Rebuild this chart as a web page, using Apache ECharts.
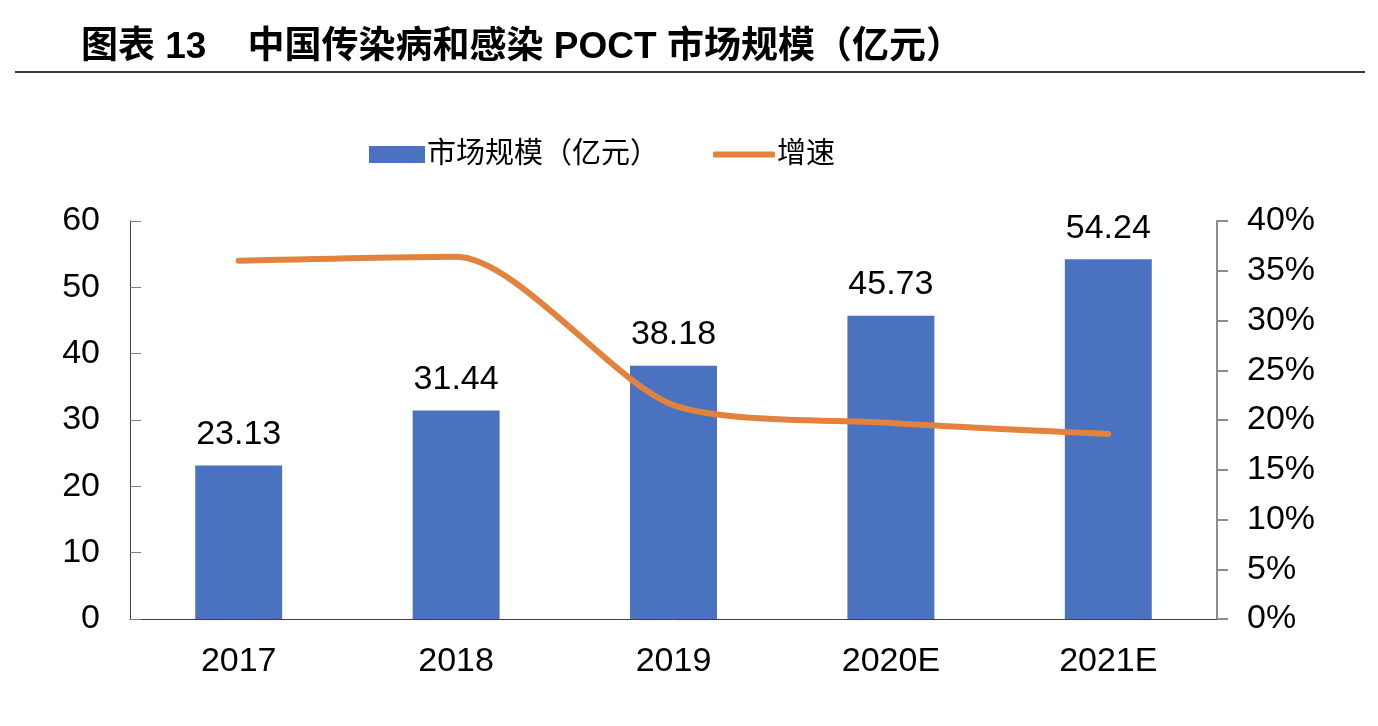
<!DOCTYPE html>
<html>
<head>
<meta charset="utf-8">
<script src="https://cdn.jsdelivr.net/npm/echarts@6/dist/echarts.min.js"></script>
<style>html,body{margin:0;padding:0;background:#fff;}#c{width:1378px;height:726px;}</style>
</head>
<body>
<div id="c"></div>
<script>
const categories = ['2017', '2018', '2019', '2020E', '2021E'];
const marketSize = [23.13, 31.44, 38.18, 45.73, 54.24];
const growthRate = [36.0, 36.4, 21.5, 19.7, 18.6];
const leftTicks = [0, 10, 20, 30, 40, 50, 60];
const rightTicks = [0, 5, 10, 15, 20, 25, 30, 35, 40];

const latin = '"Liberation Sans", Arial, sans-serif';
const cjk = '"Liberation Sans", "Noto Sans CJK SC", sans-serif';

const chart = echarts.init(document.getElementById('c'));
chart.setOption({
  backgroundColor: '#fff',
  animation: false,
  title: {
    text: '图表 13    中国传染病和感染 POCT 市场规模（亿元）',
    left: 76, top: 24,
    textStyle: { fontFamily: cjk, fontWeight: 'bold', fontSize: 37, color: '#000' }
  },
  graphic: [{
    type: 'line', shape: { x1: 15, y1: 72, x2: 1365, y2: 72 },
    style: { stroke: '#3a3a3a', lineWidth: 2 }
  }],
  legend: [{
    left: 364, top: 135,
    itemWidth: 56, itemHeight: 17,
    textStyle: { fontFamily: cjk, fontSize: 29, color: '#000', padding: [0, 0, 0, -3] },
    data: [{ name: '市场规模（亿元）', icon: 'rect' }]
  }, {
    left: 708, top: 135,
    itemWidth: 62, itemHeight: 6,
    textStyle: { fontFamily: cjk, fontSize: 29, color: '#000', padding: [0, 0, 0, -3] },
    data: [{ name: '增速', icon: 'roundRect' }]
  }],
  grid: { left: 130, right: 161, top: 221, bottom: 107, containLabel: false },
  xAxis: {
    type: 'category',
    data: categories,
    axisLine: { lineStyle: { color: '#404040', width: 1 } },
    axisTick: { show: false },
    axisLabel: { fontFamily: latin, fontSize: 34, color: '#000', margin: 26 }
  },
  yAxis: [{
    type: 'value', min: leftTicks[0], max: leftTicks[leftTicks.length - 1], interval: 10,
    axisLine: { show: true, lineStyle: { color: '#404040', width: 1 } },
    axisTick: { show: true, inside: true, length: 11, lineStyle: { color: '#808080', width: 1 } },
    splitLine: { show: false },
    axisLabel: { fontFamily: latin, fontSize: 34, color: '#000', margin: 30 }
  }, {
    type: 'value', min: rightTicks[0], max: rightTicks[rightTicks.length - 1], interval: 5,
    axisLine: { show: true, lineStyle: { color: '#8c8c8c', width: 2 } },
    axisTick: { show: true, length: 11, lineStyle: { color: '#8c8c8c', width: 2 } },
    splitLine: { show: false },
    axisLabel: { fontFamily: latin, fontSize: 34, color: '#000', margin: 30, formatter: '{value}%' }
  }],
  series: [{
    name: '市场规模（亿元）',
    type: 'bar',
    data: marketSize,
    barWidth: '40%',
    itemStyle: { color: '#4A72BE' },
    label: { show: true, position: 'top', distance: 14, fontFamily: latin, fontSize: 34, color: '#000', formatter: (p) => p.value.toFixed(2) }
  }, {
    name: '增速',
    type: 'line',
    yAxisIndex: 1,
    data: growthRate,
    smooth: 0.25,
    symbol: 'none',
    lineStyle: { color: '#E2823F', width: 6, cap: 'round' },
    itemStyle: { color: '#E2823F' }
  }]
});
</script>
</body>
</html>
